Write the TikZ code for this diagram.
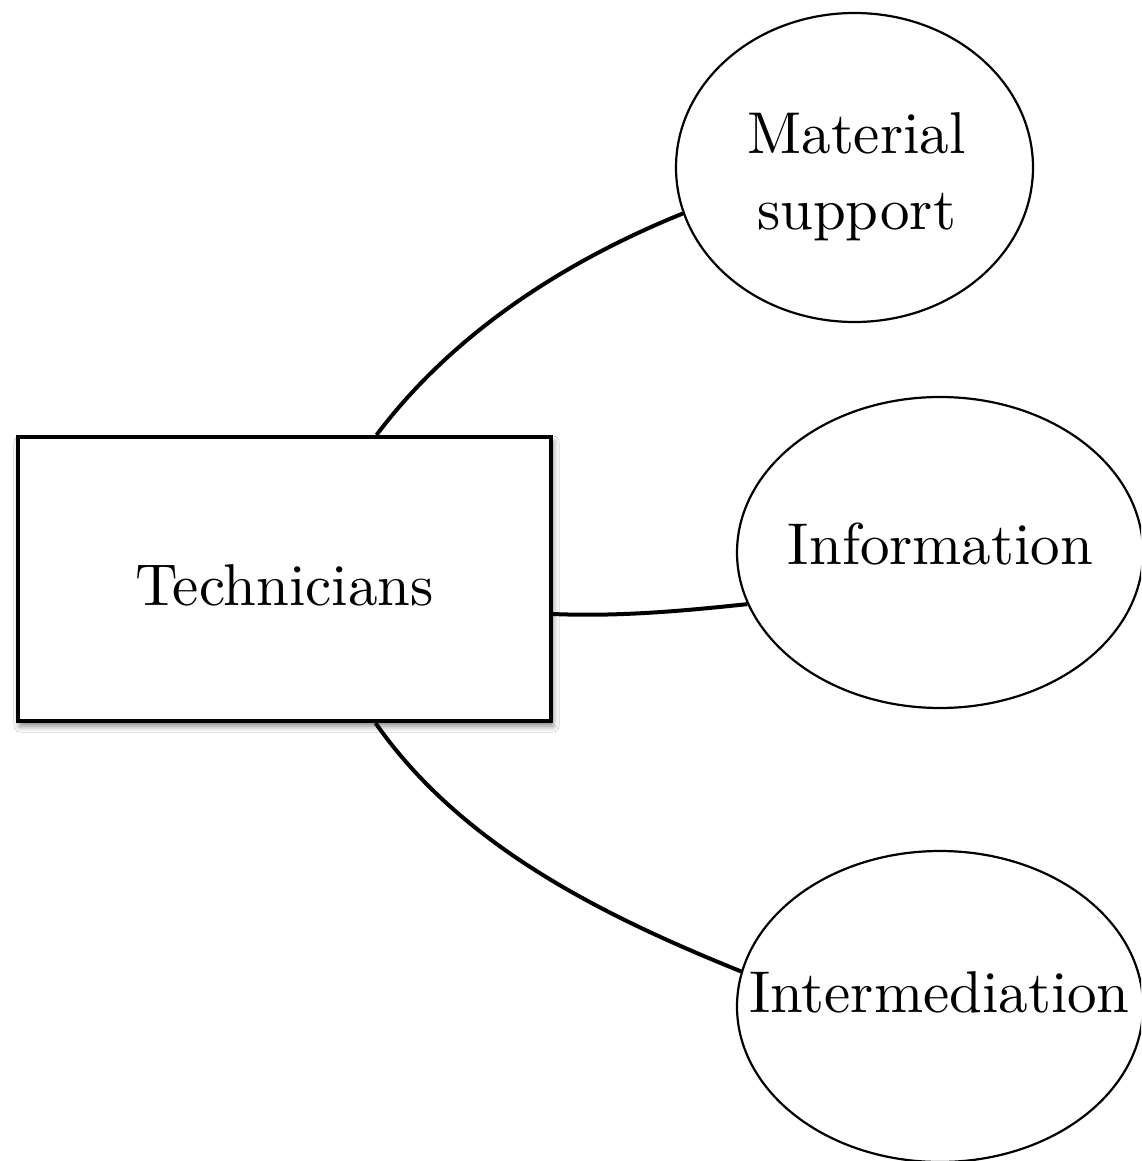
\documentclass[tikz,border=0pt]{standalone}
\usepackage{fontspec}
\setmainfont{lmroman10-regular}[Extension=.otf]
\usetikzlibrary{shapes.geometric,shadows.blur}

\tikzset{
  hub/.style={draw=black, line width=4pt, fill=white, rectangle, inner sep=0pt,
    blur shadow={shadow xshift=2pt, shadow yshift=-5pt, shadow blur radius=6pt, shadow opacity=50}},
  bubble/.style={draw=black, line width=2.2pt, fill=white, ellipse, inner sep=0pt},
  caption/.style={inner sep=0pt, font=\fontsize{59}{76}\selectfont, align=center},
  link/.style={draw=black, line width=4pt}
}

\begin{document}
\begin{tikzpicture}[x=1pt, y=-1pt]
  \useasboundingbox (0,0) rectangle (1141,1161);
  \clip (0,0) rectangle (1141,1161);
  \fill[white] (0,0) rectangle (1141,1161);

  % central box and the three outlets
  \node[hub, minimum width=533pt, minimum height=284pt] (tech) at (284.5,579) {};
  \node[bubble, minimum width=357pt, minimum height=309pt] (mat) at (854.5,167.5) {};
  \node[bubble, minimum width=406pt, minimum height=311pt] (info) at (940,552.5) {};
  \node[bubble, minimum width=406pt, minimum height=311pt] (inter) at (940,1006.5) {};

  % connectors
  \path[link] ([xshift=92pt]tech.north)
      .. controls +(53:140pt) and +(202:110pt) .. (mat.195);
  \path[link] ([yshift=-35pt]tech.east)
      .. controls +(68pt,-3pt) and +(-57pt,-6pt) .. (info.195.5);
  \path[link] ([xshift=91pt]tech.south)
      .. controls +(-55:150pt) and +(158:150pt) .. (inter.170.5);

  % labels
  \node[caption, anchor=base] (techT) at (284.5,605) {Technicians};
  \node[caption] (matT) at (856.5,177) {Material\\support};
  \node[caption, anchor=base] (infoT) at (940.5,564) {Information};
  \node[caption, anchor=base] (interT) at (939.5,1012) {Intermediation};
\end{tikzpicture}
\end{document}
